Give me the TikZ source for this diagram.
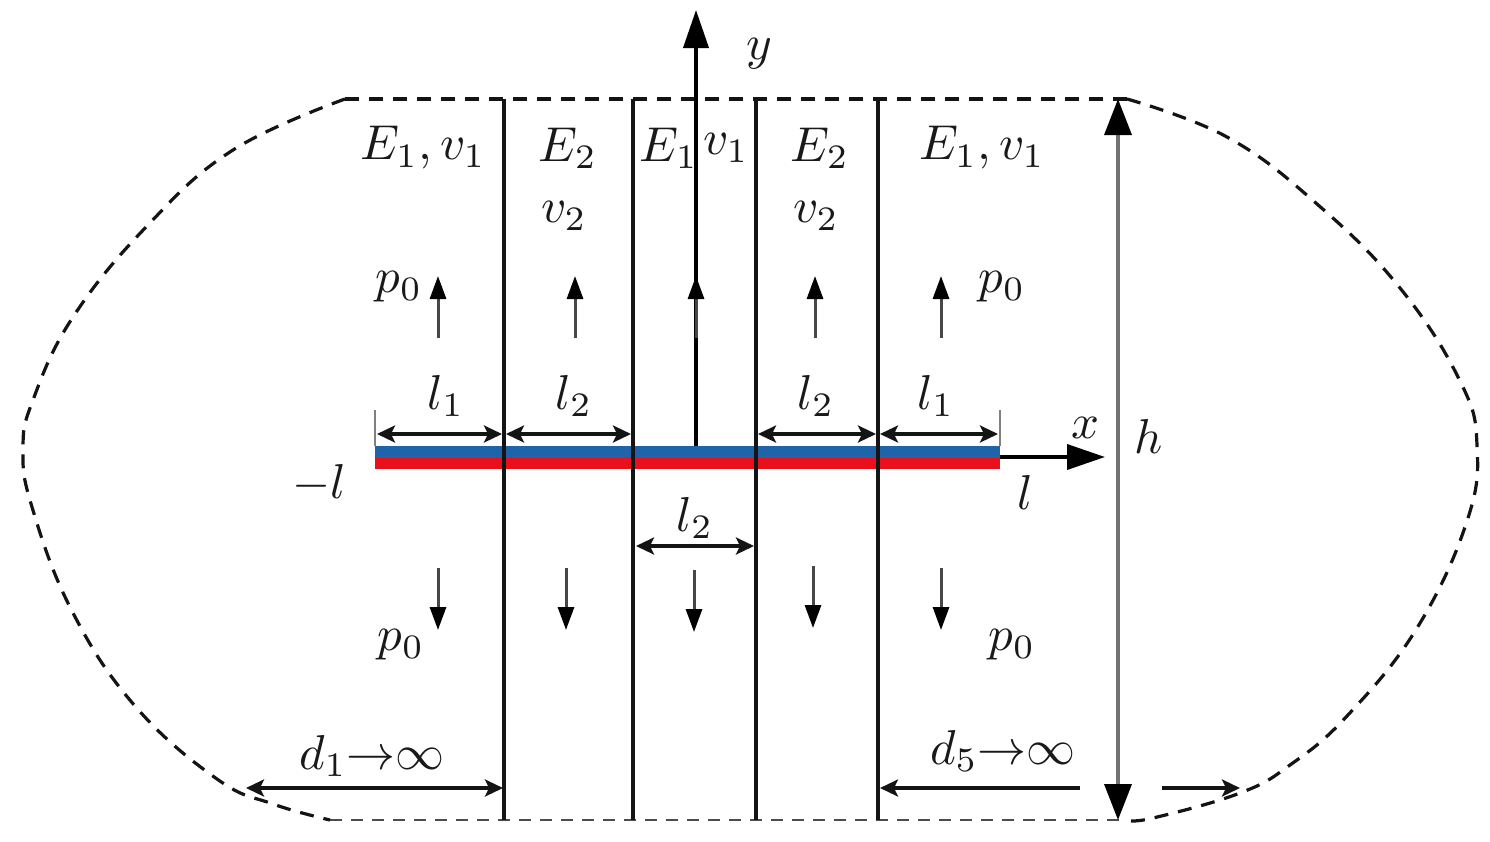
\documentclass[tikz,border=0pt]{standalone}
\usetikzlibrary{arrows.meta}
\tikzset{
  lab/.style={scale=4.9,inner sep=0pt,text=black!90},
  wall/.style={line width=3.6pt,black!92},
  outline/.style={line width=3.2pt,dash pattern=on 14pt off 10pt,black!92},
  flat/.style={line width=2.6pt,dash pattern=on 12pt off 9pt,black!70},
  dim/.style={line width=3.2pt,black!92,{Stealth[length=18pt,width=17pt,inset=4pt]}-{Stealth[length=18pt,width=17pt,inset=4pt]}},
  single/.style={line width=3.2pt,black!92,-{Stealth[length=18pt,width=17pt,inset=4pt]}},
  load/.style={line width=3pt,black!72,-{Triangle[length=23pt,width=16pt,black]}},
  axis/.style={line width=3.8pt,black,-{Triangle[length=38pt,width=25pt]}},
  tick/.style={line width=2pt,black!50},
}
\begin{document}
\begin{tikzpicture}[x=1pt,y=-1pt]
\useasboundingbox (0,0) rectangle (1490,841);
% named points
\coordinate (TL) at (345,99); \coordinate (TR) at (1127,99);
\coordinate (BL) at (330,820); \coordinate (BR) at (1127,820);
\foreach \n/\x in {a/504,b/633,c/756,d/878}{
  \coordinate (\n t) at (\x,99); \coordinate (\n b) at (\x,820);
}
% outline
\draw[outline] (TL) -- (TR);
\draw[flat] (BL) -- (BR);
\draw[outline] plot[smooth,tension=0.7] coordinates {(345,99) (233,150) (147,226) (73,317) (33,400) (23,449) (32,507) (72,611) (135,706) (217,779) (273,804) (330,820)};
\draw[outline] plot[smooth,tension=0.7] coordinates {(1127,99) (1227,137) (1317,204) (1400,288) (1460,381) (1477,445) (1467,521) (1417,628) (1347,716) (1290,765) (1240,793) (1153,818) (1127,820)};
% layers
\fill[fill={rgb,255:red,31;green,99;blue,168}] (375,446) rectangle (1000,458);
\fill[fill={rgb,255:red,232;green,16;blue,26}] (375,458) rectangle (1000,469);
% walls
\foreach \n in {a,b,c,d}{ \draw[wall] (\n t) -- (\n b); }
% axes
\coordinate (O) at (696,446); \coordinate (Y) at (696,10);
\coordinate (X0) at (1000,457); \coordinate (X) at (1105,457);
\draw[axis] (O) -- (Y);
\draw[axis] (X0) -- (X);
% h
\coordinate (H1) at (1118,820); \coordinate (H2) at (1118,99);
\draw[line width=3.6pt,black!55,{Triangle[length=36pt,width=27pt,black]}-{Triangle[length=36pt,width=27pt,black]}] (H1) -- (H2);
% ticks
\coordinate (TA0) at (375,410); \coordinate (TA1) at (375,446);
\coordinate (TB0) at (1000,410); \coordinate (TB1) at (1000,446);
\draw[tick] (TA0) -- (TA1);
\draw[tick] (TB0) -- (TB1);
% dimensions
\foreach \i/\xa/\xb in {1/377/502,2/506/631,3/758/876,4/880/998}{
  \coordinate (DA\i) at (\xa,434); \coordinate (DB\i) at (\xb,434);
  \draw[dim] (DA\i) -- (DB\i);
}
\coordinate (L2a) at (636,546); \coordinate (L2b) at (754,546);
\draw[dim] (L2a) -- (L2b);
\coordinate (D1a) at (246,788); \coordinate (D1b) at (503,788);
\draw[dim] (D1a) -- (D1b);
\coordinate (D5a) at (1080,788); \coordinate (D5b) at (880,788);
\draw[single] (D5a) -- (D5b);
\coordinate (D5c) at (1162,788); \coordinate (D5d) at (1240,788);
\draw[single] (D5c) -- (D5d);
% load arrows
\foreach \i/\x in {1/438,2/575,3/696,4/815,5/941}{
  \coordinate (PU\i) at (\x,338); \coordinate (PV\i) at (\x,276);
  \draw[load] (PU\i) -- (PV\i);
}
\foreach \i/\x/\ya/\yb in {1/438/568/630,2/566/568/630,3/694/570/632,4/813/566/628,5/941/568/630}{
  \coordinate (QU\i) at (\x,\ya); \coordinate (QV\i) at (\x,\yb);
  \draw[load] (QU\i) -- (QV\i);
}
% labels
\node[lab] (ly) at (759,54) {$y$};
\node[lab] (lx) at (1085,428) {$x$};
\node[lab] (lh) at (1149,436) {$h$};
\node[lab] (lml) at (319,484) {$-l$};
\node[lab] (ll) at (1025,492) {$l$};
\node[lab] (e1a) at (423,148) {$E_1,v_1$};
\node[lab] (e2a) at (568,148) {$E_2$};
\node[lab] (v2a) at (564,216) {$v_2$};
\node[lab] (e1c) at (669,148) {$E_1$};
\node[lab] (v1c) at (726,148) {$v_1$};
\node[lab] (e2b) at (820,148) {$E_2$};
\node[lab] (v2b) at (816,216) {$v_2$};
\node[lab] (e1e) at (982,148) {$E_1,v_1$};
\node[lab] (p1) at (399,287) {$p_0$};
\node[lab] (p2) at (1002,287) {$p_0$};
\node[lab] (p3) at (401,645) {$p_0$};
\node[lab] (p4) at (1012,645) {$p_0$};
\node[lab] (l1a) at (446,396) {$l_1$};
\node[lab] (l2a) at (574,396) {$l_2$};
\node[lab] (l2b) at (816,396) {$l_2$};
\node[lab] (l1b) at (936,396) {$l_1$};
\node[lab] (l2c) at (695,518) {$l_2$};
\node[lab] (d1) at (372,756) {$d_1{\rightarrow}\infty$};
\node[lab] (d5) at (1003,751) {$d_5{\rightarrow}\infty$};
\end{tikzpicture}
\end{document}
